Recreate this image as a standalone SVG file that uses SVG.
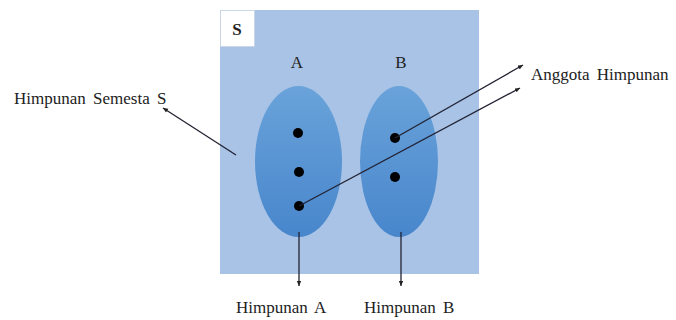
<svg xmlns="http://www.w3.org/2000/svg" width="676" height="320" viewBox="0 0 676 320">
<defs>
<linearGradient id="eg" x1="0" y1="0" x2="0" y2="1">
<stop offset="0" stop-color="#6aa3da"/>
<stop offset="1" stop-color="#4886cc"/>
</linearGradient>
<marker id="ah" markerWidth="6" markerHeight="6" refX="5" refY="3" orient="auto" markerUnits="userSpaceOnUse">
<path d="M0,0.8 L5,3 L0,5.2 Z" fill="#222"/>
</marker>
<style>
text{font-family:'Liberation Serif','Times New Roman',serif;font-size:17px;fill:#222}
.ln{stroke:#223;stroke-width:1.3;fill:none}
.dot{fill:#000}
</style>
</defs>
<rect width="676" height="320" fill="#fff"/>
<g id="universe">
<rect x="220" y="10" width="259" height="264" fill="#a8c3e6"/>
<rect x="220.5" y="10.5" width="34" height="36" fill="#fff" stroke="#c9d6e6" stroke-width="1"/>
<text x="237" y="35" font-family="Liberation Serif, serif" text-anchor="middle" font-weight="bold" font-size="18">S</text>
</g>
<g id="setA">
<ellipse cx="298.5" cy="161.5" rx="43.5" ry="75.5" fill="url(#eg)"/>
<text x="297" y="68" font-family="Liberation Serif, serif" text-anchor="middle">A</text>
<circle cx="298" cy="133" r="5" class="dot"/>
<circle cx="299" cy="172" r="5" class="dot"/>
<circle cx="299" cy="206" r="5" class="dot"/>
</g>
<g id="setB">
<ellipse cx="399" cy="161.5" rx="39" ry="75.5" fill="url(#eg)"/>
<text x="401" y="68" font-family="Liberation Serif, serif" text-anchor="middle">B</text>
<circle cx="395" cy="138" r="5" class="dot"/>
<circle cx="395" cy="177" r="5" class="dot"/>
</g>
<g id="connectors">
<line x1="395" y1="138" x2="523" y2="65" class="ln" marker-end="url(#ah)"/>
<line x1="299" y1="206" x2="520" y2="88" class="ln" marker-end="url(#ah)"/>
<line x1="236" y1="155" x2="163" y2="108" class="ln" marker-end="url(#ah)"/>
<line x1="299" y1="232" x2="299" y2="286" class="ln" marker-end="url(#ah)"/>
<line x1="401" y1="232" x2="401" y2="286" class="ln" marker-end="url(#ah)"/>
</g>
<g id="labels">
<text x="14" y="104" font-family="Liberation Serif, serif" word-spacing="3">Himpunan Semesta S</text>
<text x="531" y="80" font-family="Liberation Serif, serif" word-spacing="3">Anggota Himpunan</text>
<text x="236" y="313" font-family="Liberation Serif, serif" word-spacing="3">Himpunan A</text>
<text x="364" y="313" font-family="Liberation Serif, serif" word-spacing="3">Himpunan B</text>
</g>
</svg>
